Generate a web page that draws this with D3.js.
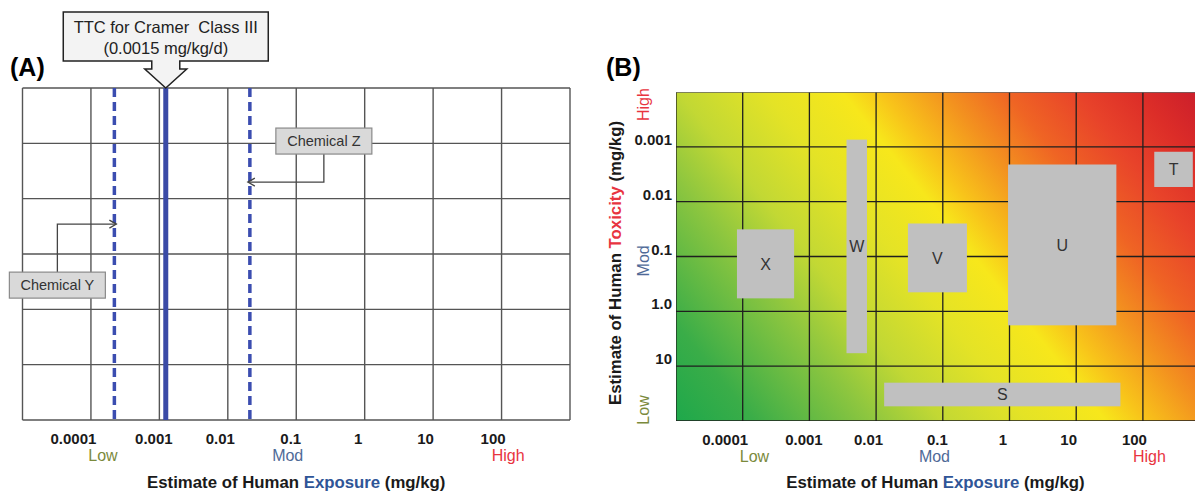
<!DOCTYPE html>
<html>
<head>
<meta charset="utf-8">
<script src="https://cdn.jsdelivr.net/npm/d3@7"></script>
<style>
body { margin: 0; background: #fff; }
svg { display: block; font-family: "Liberation Sans", Arial, sans-serif; }
</style>
</head>
<body>
<script>
// exposure axis (mg/kg), shared by both panels
var exposureTicks = [1e-4, 1e-3, 1e-2, 0.1, 1, 10, 100];
var exposureTickLabels = ["0.0001", "0.001", "0.01", "0.1", "1", "10", "100"];
var exposureGrid = [1e-5, 1e-4, 1e-3, 1e-2, 0.1, 1, 10, 100, 1000];

var levelNames = ["Low", "Mod", "High"];
var levelColors = ["#7b8a3c", "#4f6a97", "#e8343f"];
var levelExposure = [1.5e-4, 0.075, 125];
var levelToxicity = [63, 0.12, 1.7e-4];

// panel A
var rowsA = 6;
var ttcValue = 0.00124;
var chemNamesA = ["Chemical Y", "Chemical Z"];
var chemExposureA = [2.2e-4, 0.021];
var chemArrowRowA = [2.46, 1.70];

// panel B
var toxTicks = [0.001, 0.01, 0.1, 1, 10];
var toxTickLabels = ["0.001", "0.01", "0.1", "1.0", "10"];
var toxGrid = [1e-4, 1e-3, 1e-2, 0.1, 1, 10, 100];
var chemNamesB = ["S", "T", "U", "V", "W", "X"];
var expLowB = [0.0132, 148, 0.95, 0.030, 0.0036, 8.2e-5];
var expHighB = [46, 560, 40, 0.23, 0.0073, 5.9e-4];
var toxLowB = [20, 0.00123, 0.0021, 0.025, 7.4e-4, 0.032];
var toxHighB = [54, 0.0054, 1.8, 0.45, 5.8, 0.58];

var W = 1195, H = 491;
var tickShift = [-18, -6, -8, -6, -7, -8, -9];
var svg = d3.select("body").append("svg").attr("width", W).attr("height", H);

function bottomAxis(g, x, y) {
    var ax = g.append("g")
        .attr("transform", "translate(0," + y + ")")
        .call(d3.axisBottom(x).tickValues(exposureTicks)
            .tickFormat(function (d, i) { return exposureTickLabels[i]; })
            .tickSize(0).tickPadding(13));
    ax.select(".domain").remove();
    ax.selectAll("text")
        .attr("dx", function (d, i) { return tickShift[i]; })
        .attr("fill", "#1a1a1a")
        .style("font-size", "15px")
        .style("font-weight", "bold")
        .style("font-family", "Liberation Sans, Arial, sans-serif");

    g.selectAll(".lvl")
        .data(levelNames)
        .enter().append("text")
        .attr("x", function (d, i) { return x(levelExposure[i]); })
        .attr("y", y + 41)
        .attr("text-anchor", "middle")
        .attr("fill", function (d, i) { return levelColors[i]; })
        .style("font-size", "16px")
        .text(function (d) { return d; });

    var t = g.append("text")
        .attr("x", (x.range()[0] + x.range()[1]) / 2)
        .attr("y", 488)
        .attr("text-anchor", "middle")
        .style("font-size", "16.8px")
        .style("font-weight", "bold")
        .attr("fill", "#1a1a1a");
    t.append("tspan").text("Estimate of Human ");
    t.append("tspan").attr("fill", "#2f5597").text("Exposure");
    t.append("tspan").text(" (mg/kg)");
}

// ---------------- panel A ----------------
var xA = d3.scaleLog().domain([1e-5, 1e3]).range([22.5, 570]);
var yA = d3.scaleLinear().domain([0, rowsA]).range([88, 420]);
var gA = svg.append("g");

gA.selectAll(".vgrid")
    .data(exposureGrid)
    .enter().append("line")
    .attr("x1", function (d) { return xA(d); })
    .attr("x2", function (d) { return xA(d); })
    .attr("y1", yA(0)).attr("y2", yA(rowsA))
    .attr("stroke", "#555").attr("stroke-width", 1.4);

gA.selectAll(".hgrid")
    .data(d3.range(rowsA + 1))
    .enter().append("line")
    .attr("x1", xA.range()[0]).attr("x2", xA.range()[1])
    .attr("y1", function (d) { return yA(d); })
    .attr("y2", function (d) { return yA(d); })
    .attr("stroke", "#555").attr("stroke-width", 1.4);

// TTC line
gA.append("line")
    .attr("x1", xA(ttcValue)).attr("x2", xA(ttcValue))
    .attr("y1", yA(0)).attr("y2", yA(rowsA))
    .attr("stroke", "#3a4aa6").attr("stroke-width", 5);

// chemical dashed lines
gA.selectAll(".chem")
    .data(chemExposureA)
    .enter().append("line")
    .attr("x1", function (d) { return xA(d); })
    .attr("x2", function (d) { return xA(d); })
    .attr("y1", yA(0)).attr("y2", yA(rowsA))
    .attr("stroke", "#3b4db0").attr("stroke-width", 3.5)
    .attr("stroke-dasharray", "9,5");

// chemical labels with connectors
var boxDx = [-59, 76], boxDy = [48, -54], boxW = 96, boxH = 26;
chemNamesA.forEach(function (name, i) {
    var side = i === 0 ? -1 : 1;
    var ax = xA(chemExposureA[i]) - side * 2, ay = yA(chemArrowRowA[i]);
    var cx = ax + boxDx[i], top = ay + boxDy[i];
    var yConn = i === 0 ? top : top + boxH;
    gA.append("path")
        .attr("d", "M" + cx + "," + yConn + "V" + ay + "H" + ax)
        .attr("fill", "none").attr("stroke", "#444").attr("stroke-width", 1.3);
    gA.append("path")
        .attr("d", "M" + (ax + side * 7) + "," + (ay - 4) + "L" + ax + "," + ay + "L" + (ax + side * 7) + "," + (ay + 4))
        .attr("fill", "none").attr("stroke", "#444").attr("stroke-width", 1.3);
    gA.append("rect")
        .attr("x", cx - boxW / 2).attr("y", top)
        .attr("width", boxW).attr("height", boxH)
        .attr("fill", "#d9d9d9").attr("stroke", "#8a8a8a").attr("stroke-width", 1.2);
    gA.append("text")
        .attr("x", cx).attr("y", top + boxH / 2 + 5)
        .attr("text-anchor", "middle")
        .attr("fill", "#333")
        .style("font-size", "14.5px")
        .text(name);
});

// TTC callout
var tipX = xA(ttcValue), tipY = yA(0);
var cL = tipX - 102.5, cR = tipX + 102.5, cT = 12, cB = 61;
gA.append("path")
    .attr("d", "M" + cL + "," + cT + "H" + cR + "V" + cB + "H" + (tipX + 14) + "V" + (cB + 8) +
        "H" + (tipX + 21) + "L" + tipX + "," + tipY + "L" + (tipX - 21) + "," + (cB + 8) +
        "H" + (tipX - 14) + "V" + cB + "H" + cL + "Z")
    .attr("fill", "#f3f3f3").attr("stroke", "#222").attr("stroke-width", 1.5);
gA.append("text")
    .attr("x", tipX).attr("y", 33)
    .attr("text-anchor", "middle").attr("fill", "#222")
    .style("font-size", "16.5px").style("white-space", "pre")
    .text("TTC for Cramer  Class III");
gA.append("text")
    .attr("x", tipX).attr("y", 54)
    .attr("text-anchor", "middle").attr("fill", "#222")
    .style("font-size", "16.5px")
    .text("(0.0015 mg/kg/d)");

gA.append("text")
    .attr("x", 10).attr("y", 76)
    .style("font-size", "25px").style("font-weight", "bold")
    .text("(A)");

bottomAxis(gA, xA, yA(rowsA));

// ---------------- panel B ----------------
var xB = d3.scaleLog().domain([1e-5, 600]).range([676, 676 + 66.7 * Math.log10(6e7)]);
var yB = d3.scaleLog().domain([1e-4, 100]).range([92, 421]);
var gB = svg.append("g");

var defs = svg.append("defs");
defs.append("clipPath").attr("id", "clipB")
    .append("rect")
    .attr("x", xB.range()[0]).attr("y", yB.range()[0])
    .attr("width", W - xB.range()[0]).attr("height", yB.range()[1] - yB.range()[0]);

var grad = defs.append("linearGradient")
    .attr("id", "riskGrad")
    .attr("gradientUnits", "userSpaceOnUse")
    .attr("x1", xB.range()[0]).attr("y1", yB.range()[1])
    .attr("x2", xB.range()[0] + 308 / 395 * 610)
    .attr("y2", yB.range()[1] - 247 / 395 * 610);
[[0, "#1ea84b"], [0.1, "#3aad48"], [0.25, "#8dc63f"], [0.34, "#c2d834"], [0.45, "#e4e326"],
 [0.55, "#f7e71b"], [0.6, "#f8c41a"], [0.68, "#f3921f"], [0.76, "#ef6424"], [0.85, "#e8432a"],
 [0.93, "#dc2d28"], [1, "#cc1f2b"]].forEach(function (s) {
    grad.append("stop").attr("offset", s[0]).attr("stop-color", s[1]);
});

var plotB = gB.append("g").attr("clip-path", "url(#clipB)");
plotB.append("rect")
    .attr("x", xB.range()[0]).attr("y", yB.range()[0])
    .attr("width", W - xB.range()[0]).attr("height", yB.range()[1] - yB.range()[0])
    .attr("fill", "url(#riskGrad)");

plotB.selectAll(".vgrid")
    .data(exposureGrid)
    .enter().append("line")
    .attr("x1", function (d) { return xB(d); })
    .attr("x2", function (d) { return xB(d); })
    .attr("y1", yB.range()[0]).attr("y2", yB.range()[1])
    .attr("stroke", "#1f1f1f").attr("stroke-width", 1.3);

plotB.selectAll(".hgrid")
    .data(toxGrid)
    .enter().append("line")
    .attr("x1", xB.range()[0]).attr("x2", W)
    .attr("y1", function (d) { return yB(d); })
    .attr("y2", function (d) { return yB(d); })
    .attr("stroke", function (d, i) { return i === 0 ? "#666" : "#1f1f1f"; })
    .attr("stroke-width", 1.3);

plotB.selectAll(".box")
    .data(chemNamesB)
    .enter().append("rect")
    .attr("x", function (d, i) { return xB(expLowB[i]); })
    .attr("y", function (d, i) { return yB(toxLowB[i]); })
    .attr("width", function (d, i) { return xB(expHighB[i]) - xB(expLowB[i]); })
    .attr("height", function (d, i) { return yB(toxHighB[i]) - yB(toxLowB[i]); })
    .attr("fill", "#c0c0c0");

plotB.selectAll(".boxlbl")
    .data(chemNamesB)
    .enter().append("text")
    .attr("x", function (d, i) { return (xB(expLowB[i]) + xB(expHighB[i])) / 2; })
    .attr("y", function (d, i) { return (yB(toxLowB[i]) + yB(toxHighB[i])) / 2 + 6; })
    .attr("text-anchor", "middle")
    .attr("fill", "#333")
    .style("font-size", "16px")
    .text(function (d) { return d; });

// y tick labels
gB.selectAll(".ytick")
    .data(toxTicks)
    .enter().append("text")
    .attr("x", 672)
    .attr("y", function (d) { return yB(d) - 2; })
    .attr("text-anchor", "end")
    .attr("fill", "#1a1a1a")
    .style("font-size", "15px").style("font-weight", "bold")
    .text(function (d, i) { return toxTickLabels[i]; });

gB.selectAll(".ylvl")
    .data(levelNames)
    .enter().append("text")
    .attr("transform", function (d, i) { return "translate(649," + yB(levelToxicity[i]) + ") rotate(-90)"; })
    .attr("text-anchor", "middle")
    .attr("fill", function (d, i) { return levelColors[i]; })
    .style("font-size", "16px")
    .text(function (d) { return d; });

var yt = gB.append("text")
    .attr("transform", "translate(621,263) rotate(-90)")
    .attr("text-anchor", "middle")
    .attr("fill", "#1a1a1a")
    .style("font-size", "16.8px").style("font-weight", "bold");
yt.append("tspan").text("Estimate of Human ");
yt.append("tspan").attr("fill", "#e8343f").text("Toxicity");
yt.append("tspan").text(" (mg/kg)");

gB.append("text")
    .attr("x", 606).attr("y", 76)
    .style("font-size", "25px").style("font-weight", "bold")
    .text("(B)");

bottomAxis(gB, xB, yB.range()[1]);
</script>
</body>
</html>
